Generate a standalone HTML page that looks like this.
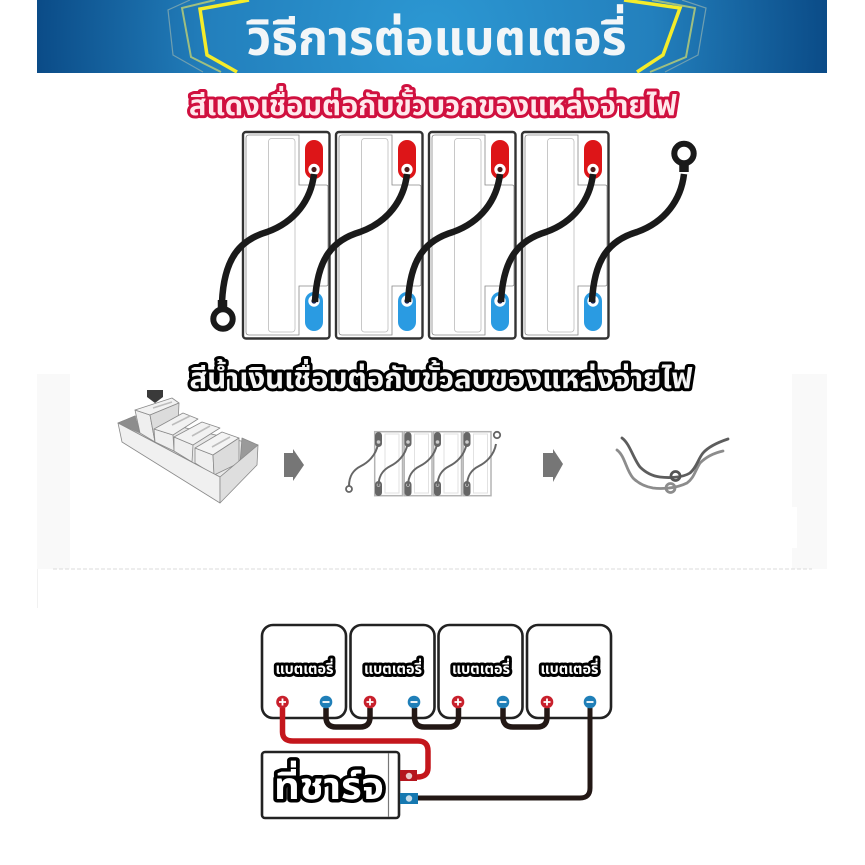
<!DOCTYPE html>
<html lang="th"><head><meta charset="utf-8"><title>วิธีการต่อแบตเตอรี่</title>
<style>
html,body{margin:0;padding:0;background:#fff;width:865px;height:865px;overflow:hidden}
svg{display:block}
text{font-family:"Liberation Sans","Noto Sans Thai","Loma","Garuda","Tlwg Typo","Norasi","DejaVu Sans","WenQuanYi Zen Hei","Noto Sans CJK SC",sans-serif;font-weight:700;paint-order:stroke fill;stroke-linejoin:round}
</style></head><body>
<svg width="865" height="865" viewBox="0 0 865 865" xmlns="http://www.w3.org/2000/svg">
<defs>
<radialGradient id="hd" gradientUnits="userSpaceOnUse" cx="432" cy="36" r="400">
<stop offset="0" stop-color="#2c98d3"/><stop offset=".55" stop-color="#2380bd"/><stop offset="1" stop-color="#0a4a86"/></radialGradient>
<g id="bat">
<rect x="243" y="132" width="86.500" height="206.500" rx="3" fill="#fff" stroke="#333" stroke-width="2.400"/>
<path d="M299 135H249Q246 135 246 138V332Q246 335 249 335H299V286H326Q328 286 328 284V187Q328 185 326 185H299Z" fill="none" stroke="#888" stroke-width=".8"/>
<rect x="268.500" y="138.500" width="26.500" height="193.500" rx="3" fill="none" stroke="#bbb" stroke-width=".8"/>
<rect x="305" y="140" width="18" height="39" rx="9" fill="#dd1518"/>
<rect x="305" y="292" width="18" height="39" rx="9" fill="#2a9be2"/>
<circle cx="314" cy="169.500" r="5.700" fill="#fff"/><circle cx="314" cy="169.500" r="2.600" fill="#4d1c1c"/>
<circle cx="314" cy="301" r="5.700" fill="#fff"/><circle cx="314" cy="301" r="2.600" fill="#1c2454"/>
</g>
<path id="cab" d="M314 174C311 200 295 222 267 232C240 240 224 258 222 302" fill="none" stroke="#1a1a1a" stroke-width="6.500"/>
<g id="bb">
<rect x="262" y="625" width="84" height="93" rx="11" fill="#fff" stroke="#222" stroke-width="2.600"/>
<text x="304.500" y="674" font-size="15" text-anchor="middle" fill="#fff" stroke="#000" stroke-width="6" textLength="58" lengthAdjust="spacingAndGlyphs">แบตเตอรี่</text>
</g>
<g id="pl"><circle r="6.300" fill="#c8202c"/><path d="M-3.500 0H3.500M0-3.500V3.500" stroke="#fff" stroke-width="1.800"/></g>
<g id="mi"><circle r="6.300" fill="#1f7fb8"/><path d="M-3.500 0H3.500" stroke="#fff" stroke-width="1.800"/></g>
<path id="lnk" d="M326 708V717Q326 727 336 727H360Q370 727 370 717V708" fill="none" stroke="#231815" stroke-width="5.500"/>
<g id="mbat">
<rect x="374.700" y="431.700" width="27.800" height="64" fill="#fff" stroke="#b4b4b4" stroke-width="1.500"/>
<rect x="385" y="434" width="14" height="59" fill="none" stroke="#e2e2e2" stroke-width="1"/>
<rect x="375" y="432" width="7" height="15" rx="3.500" fill="#666"/>
<rect x="375" y="481" width="7" height="15" rx="3.500" fill="#666"/>
<circle cx="378.500" cy="442" r="1.800" fill="#ccc"/><circle cx="378.500" cy="485" r="1.800" fill="#ccc"/>
</g>
<path id="mcab" d="M378 444C376 456 367 463 361 466C353 470 349 476 349 486" fill="none" stroke="#666" stroke-width="2"/>
</defs>

<!-- header -->
<rect x="37" y="0" width="790" height="73" fill="url(#hd)"/>
<g fill="none">
<path d="M190 0L168 10L173 55L203 72" stroke="#6f9fb0" stroke-width="1.200"/>
<path d="M215 0L182 8L191 57L221 72" stroke="#9fbf80" stroke-width="2"/>
<path d="M249 0L200 9L207 55L237 72" stroke="#f4ec2a" stroke-width="3.500"/>
<path d="M682 0L706 8L698 55L665 72" stroke="#6f9fb0" stroke-width="1.200"/>
<path d="M652 0L695 8L686 57L650 72" stroke="#9fbf80" stroke-width="2"/>
<path d="M624 0L680 8L663 55L637 72" stroke="#f4ec2a" stroke-width="3.500"/>
</g>
<text x="436.500" y="55" font-size="49" text-anchor="middle" fill="#f2f6f8" textLength="380" lengthAdjust="spacingAndGlyphs">วิธีการต่อแบตเตอรี่</text>

<!-- red title -->
<text x="433" y="115" font-size="28" text-anchor="middle" fill="#ffe8ec" stroke="#d0103f" stroke-width="6" textLength="488" lengthAdjust="spacingAndGlyphs">สีแดงเชื่อมต่อกับขั้วบวกของแหล่งจ่ายไฟ</text>

<!-- batteries -->
<use href="#bat"/><use href="#bat" x="93"/><use href="#bat" x="186"/><use href="#bat" x="279"/>
<use href="#cab"/><use href="#cab" x="93"/><use href="#cab" x="186"/><use href="#cab" x="279"/><use href="#cab" x="370"/>
<g fill="none" stroke="#1a1a1a">
<circle cx="223" cy="319" r="9.700" stroke-width="6"/>
<path d="M222.500 300V310" stroke-width="9.500"/>
<circle cx="684" cy="153.500" r="9.700" stroke-width="6"/>
<path d="M684 163V172" stroke-width="9.500"/>
</g>

<!-- light band -->
<rect x="37" y="374" width="33" height="195" fill="#f9f9f9"/>
<rect x="792" y="374" width="35" height="195" fill="#f9f9f9"/>
<rect x="745" y="507" width="52" height="41" fill="#fff"/>
<path d="M53 569H812" stroke="#cfcfcf" stroke-width=".8" stroke-dasharray="4 2"/>
<path d="M37.500 569V608" stroke="#eee" stroke-width=".8"/>

<!-- blue title -->
<text x="441" y="388" font-size="28" text-anchor="middle" fill="#f4f4f4" stroke="#000" stroke-width="6" textLength="503" lengthAdjust="spacingAndGlyphs">สีน้ำเงินเชื่อมต่อกับขั้วลบของแหล่งจ่ายไฟ</text>

<!-- box illustration -->
<g stroke="#8a8a8a" stroke-width=".8" stroke-linejoin="round">
<path d="M118 423L135 416L258 445L220 477Z" fill="#e8e8e8"/>
<path d="M118 423L135 416L140 433Z" fill="#8d8d8d"/>
<path d="M242 438L258 445L240 463Z" fill="#9a9a9a"/>
<!-- B1 -->
<path d="M135 410L150 415L155 442L140 433Z" fill="#efefef"/>
<path d="M135 410L172 398L179 403L150 415Z" fill="#f2f2f2"/>
<path d="M150 415L179 403L178 425L155 442Z" fill="#dcdcdc"/>
<!-- B2 -->
<path d="M154 429L173 435L174 451L155 442Z" fill="#efefef"/>
<path d="M154 429L183 413L198 419L173 435Z" fill="#f2f2f2"/>
<!-- B3 -->
<path d="M174 437L193 445L192 462L174 451Z" fill="#efefef"/>
<path d="M174 437L202 422L220 428L193 445Z" fill="#f2f2f2"/>
<!-- B4 -->
<path d="M195 448L213 455L214 475L195 463Z" fill="#efefef"/>
<path d="M195 448L222 432L239 438L213 455Z" fill="#f4f4f4"/>
<path d="M213 455L239 438L239 463L214 475Z" fill="#dcdcdc"/>
<!-- box front -->
<path d="M118 423L220 477L220 503L122 442Z" fill="#f0f0f0"/>
<path d="M220 477L258 445L257 465L220 503Z" fill="#dedede"/>
</g>
<g fill="none" stroke="#bdbdbd" stroke-width="1.600">
<path d="M153 408L172 402"/><path d="M172 425L190 416"/><path d="M192 436L210 426"/><path d="M212 447L230 437"/>
</g>
<path d="M147 390H163V397L155 403L147 397Z" fill="#3a3a3a"/>
<path d="M284 453H293V449L304 465L293 481V477H284Z" fill="#767676"/>
<path d="M543 453H553V449L563 464L553 482V477H543Z" fill="#767676"/>

<!-- mini batteries -->
<use href="#mbat"/><use href="#mbat" x="29.500"/><use href="#mbat" x="59"/><use href="#mbat" x="88.500"/>
<use href="#mcab"/><use href="#mcab" x="29.500"/><use href="#mcab" x="59"/><use href="#mcab" x="88.500"/><use href="#mcab" x="118"/>
<g fill="none" stroke="#666" stroke-width="1.800">
<circle cx="349" cy="489" r="3"/><circle cx="497" cy="435" r="3.200"/>
</g>
<!-- loose cables -->
<g fill="none" stroke-linecap="round">
<path d="M617 450C625 456 626 470 633 478C640 485 647 487 653 488C660 489 675 489 687 483C694 478 695 471 700 463C706 457 714 453 723 451" stroke="#8c8c8c" stroke-width="2.800"/>
<path d="M622 438C630 444 633 458 640 467C646 473 652 476 660 477C668 478 682 478 690 473C697 467 698 459 703 453C709 446 719 442 728 439" stroke="#5d5d5d" stroke-width="2.800"/>
<circle cx="675.500" cy="476" r="4.500" stroke="#555" stroke-width="2.800"/>
<circle cx="670.500" cy="488" r="4.500" stroke="#8c8c8c" stroke-width="2.800"/>
</g>

<!-- wiring diagram -->
<use href="#bb"/><use href="#bb" x="88.500"/><use href="#bb" x="176.500"/><use href="#bb" x="265"/>
<use href="#lnk"/><use href="#lnk" x="88.500"/><use href="#lnk" x="177"/>
<path d="M282.500 708V732Q282.500 741 293 741H418Q428 741 428 751V768Q428 777 417 777" fill="none" stroke="#c4161c" stroke-width="5.500"/>
<path d="M590 708V788Q590 798 580 798H416" fill="none" stroke="#231815" stroke-width="5"/>
<use href="#pl" x="282.500" y="702"/><use href="#mi" x="326" y="702"/>
<use href="#pl" x="370" y="702"/><use href="#mi" x="414" y="702"/>
<use href="#pl" x="458" y="702"/><use href="#mi" x="503" y="702"/>
<use href="#pl" x="547" y="702"/><use href="#mi" x="590" y="702"/>
<rect x="262" y="752" width="137" height="66" rx="3" fill="#fff" stroke="#222" stroke-width="2.600"/>
<path d="M388.500 753V817" stroke="#777" stroke-width="1.200"/>
<rect x="400" y="770" width="17" height="11" fill="#b5161e"/>
<rect x="400" y="793" width="18" height="11" fill="#1678b0"/>
<circle cx="409" cy="776" r="3.200" fill="#e9c9c9"/>
<circle cx="409" cy="798.500" r="3.200" fill="#c9dde9"/>
<text x="329" y="799" font-size="37" text-anchor="middle" fill="#fff" stroke="#000" stroke-width="7" textLength="110" lengthAdjust="spacingAndGlyphs">ที่ชาร์จ</text>
</svg>
</body></html>
